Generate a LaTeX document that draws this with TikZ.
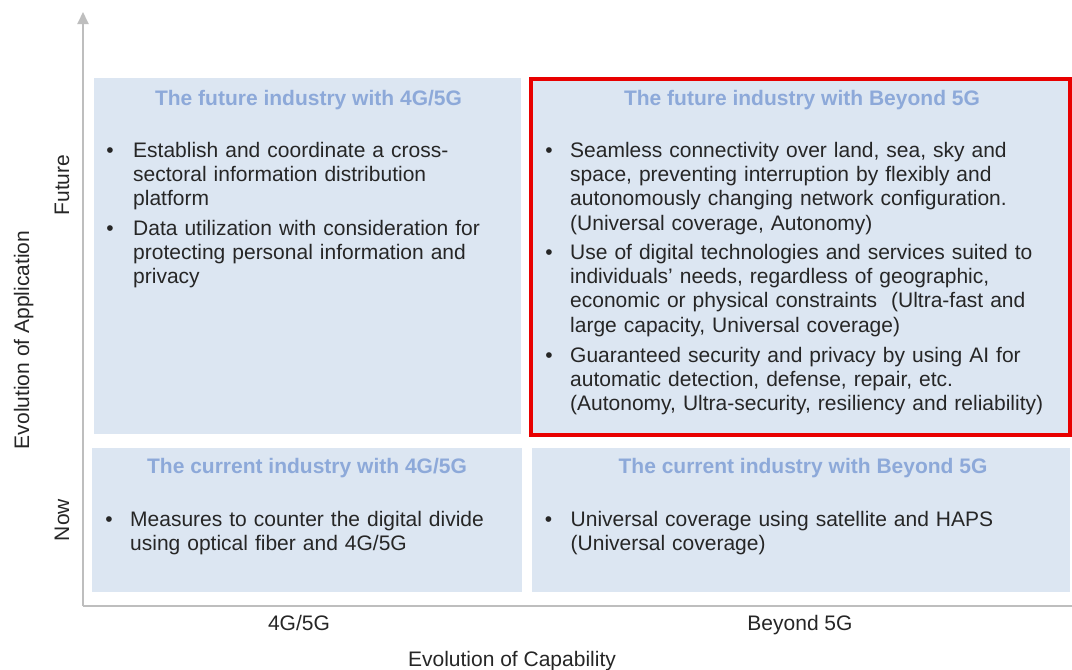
\documentclass[tikz,border=0pt]{standalone}
\usepackage{fontspec}
\setmainfont{Liberation Sans}
\usetikzlibrary{arrows.meta}
\definecolor{boxfill}{RGB}{220,230,242}
\definecolor{titleblue}{RGB}{141,169,217}
\definecolor{bodytext}{RGB}{38,38,38}
\definecolor{axisgray}{RGB}{190,190,190}
\definecolor{hlred}{RGB}{232,0,0}
\begin{document}
\begin{tikzpicture}[x=1pt,y=-1pt,
  qbox/.style={fill=boxfill, draw=none, inner sep=0, outer sep=0, anchor=north west},
  hlframe/.style={draw=hlred, line width=4pt, fill=none},
  ttl/.style={font=\fontsize{21}{24.4}\selectfont\bfseries, text=titleblue, anchor=base, inner sep=0},
  body/.style={font=\fontsize{21}{24.4}\selectfont, text=bodytext, anchor=base west, inner sep=0, text width=500pt, align=left},
  bul/.style={font=\fontsize{21}{24.4}\selectfont, text=bodytext, anchor=base, inner sep=0},
  axlabel/.style={font=\fontsize{21}{24}\selectfont, text=bodytext, anchor=base, inner sep=0},
  axisline/.style={draw=axisgray, line width=2pt}
]
\useasboundingbox (0,0) rectangle (1072,670);
\fill[white] (0,0) rectangle (1072,670);

% axes
\coordinate (origin) at (83,606);
\coordinate (ytop) at (83,12);
\coordinate (xend) at (1072,606);
\draw[axisline, -{Triangle[width=11pt,length=12pt]}] (origin) -- (ytop);
\draw[axisline] (origin) -- (xend);

% quadrant boxes
\node[qbox, minimum width=427pt, minimum height=356pt] (tl) at (94,78) {};
\node[qbox, minimum width=537pt, minimum height=356pt] (tr) at (532,78) {};
\node[qbox, minimum width=430pt, minimum height=144pt] (bl) at (92,448) {};
\node[qbox, minimum width=538pt, minimum height=144pt] (br) at (532,448) {};
\draw[hlframe] (531,79) rectangle (1070,435);

% titles
\node[ttl] (tlt) at (308.5,105) {The future industry with 4G/5G};
\node[ttl] (trt) at (802,105) {The future industry with Beyond 5G};
\node[ttl] (blt) at (307,473.5) {The current industry with 4G/5G};
\node[ttl] (brt) at (803,473.5) {The current industry with Beyond 5G};

% top-left bullets
\node[bul] (tlb1) at (110,157) {\textbullet};
\node[body] (tl1) at (133,157) {Establish and coordinate a cross-\\sectoral information distribution\\platform};
\node[bul] (tlb2) at (110,235) {\textbullet};
\node[body] (tl2) at (133,235) {Data utilization with consideration for\\protecting personal information and\\privacy};

% top-right bullets
\node[bul] (trb1) at (549,157) {\textbullet};
\node[body] (tr1) at (570,157) {Seamless connectivity over land, sea, sky and\\space, preventing interruption by flexibly and\\autonomously changing network configuration.\\(Universal coverage, Autonomy)};
\node[bul] (trb2) at (549,259) {\textbullet};
\node[body] (tr2) at (570,259) {Use of digital technologies and services suited to\\individuals’ needs, regardless of geographic,\\economic or physical constraints\ \ (Ultra-fast and\\large capacity, Universal coverage)};
\node[bul] (trb3) at (549,362) {\textbullet};
\node[body] (tr3) at (570,362) {Guaranteed security and privacy by using AI for\\automatic detection, defense, repair, etc.\\(Autonomy, Ultra-security, resiliency and reliability)};

% bottom-left bullet
\node[bul] (blb1) at (109,526.5) {\textbullet};
\node[body] (bl1) at (130,526.5) {Measures to counter the digital divide\\using optical fiber and 4G/5G};

% bottom-right bullet
\node[bul] (brb1) at (548.5,526.5) {\textbullet};
\node[body] (br1) at (570.5,526.5) {Universal coverage using satellite and HAPS\\(Universal coverage)};

% axis labels
\node[axlabel, rotate=90] (fut) at (69,185) {Future};
\node[axlabel, rotate=90] (now) at (69,520) {Now};
\node[axlabel, rotate=90] (yax) at (29,340) {Evolution of Application};
\node[axlabel] (x1) at (299,630) {4G/5G};
\node[axlabel] (x2) at (800,630) {Beyond 5G};
\node[axlabel] (xax) at (512,666) {Evolution of Capability};
\end{tikzpicture}
\end{document}
